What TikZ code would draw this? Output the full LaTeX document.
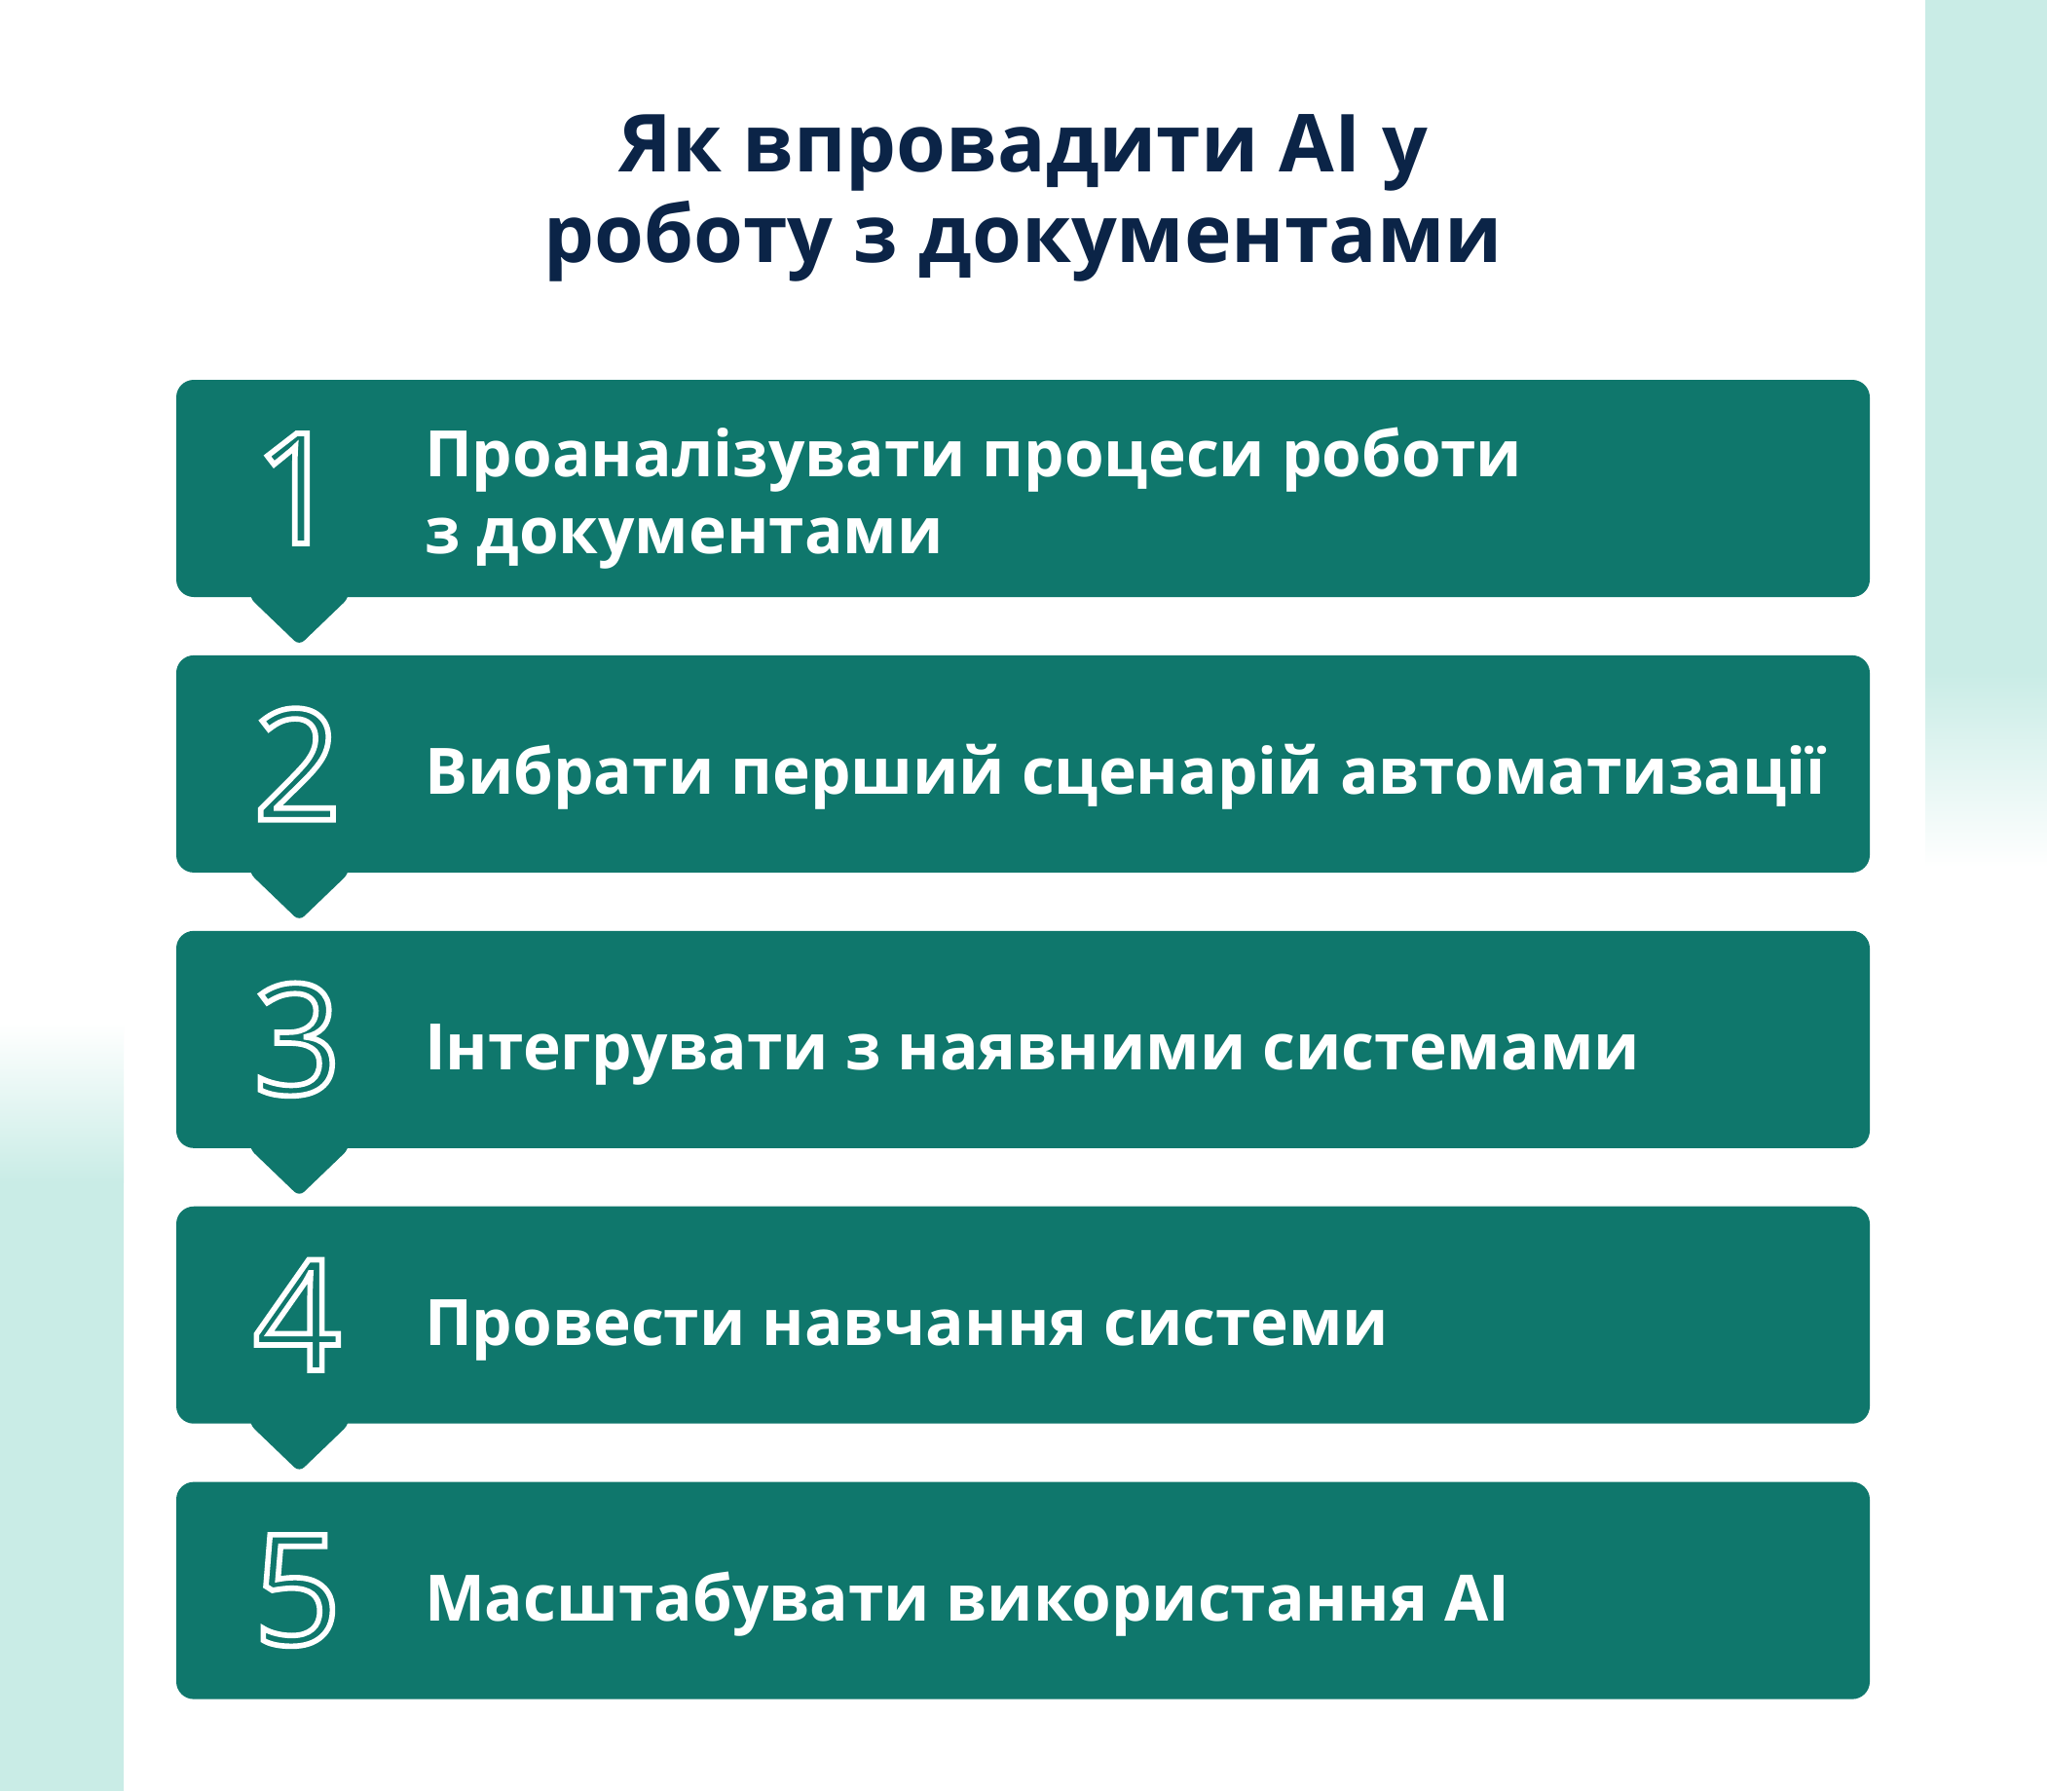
\documentclass[tikz,border=0pt]{standalone}
\usepackage{fontspec}
\setmainfont{Open Sans}
\usetikzlibrary{positioning}

\definecolor{stepteal}{HTML}{0F776C}
\definecolor{titlenavy}{HTML}{0B2447}
\definecolor{mintbg}{HTML}{C9ECE6}

% 空心数字
\newcommand{\hollownum}[1]{\special{pdf:literal direct 1 Tr 1.6 w}#1\special{pdf:literal direct 0 Tr}}

\tikzset{
  stepbox/.style={fill=stepteal, rounded corners=0.18cm, minimum width=17.39cm, minimum height=2.23cm, inner sep=0pt},
  stepnum/.style={text=white, font=\fontsize{45}{45}\selectfont, inner sep=0pt},
  steptext/.style={text=white, font=\bfseries\fontsize{18.7}{22.5}\selectfont, align=left, inner sep=0pt, anchor=base west},
  titletext/.style={text=titlenavy, font=\bfseries\fontsize{23.4}{26.5}\selectfont, align=center, inner sep=0pt}
}

\begin{document}
\begin{tikzpicture}
        % 背景
        \fill[white] (0,0) rectangle (21.02,-18.39);
        \fill[mintbg] (19.77,0) rectangle (21.02,-6.9);
        \shade[top color=mintbg, bottom color=white] (19.77,-6.9) rectangle (21.02,-8.9);
        \fill[mintbg] (0,-12.14) rectangle (1.27,-18.39);
        \shade[top color=white, bottom color=mintbg] (0,-10.5) rectangle (1.27,-12.14);

        % 标题
        \node[titletext, anchor=base] (title) at (10.51,-2.70) {Як впровадити AI у\\роботу з документами};

        % 步骤框
        \node[stepbox] (s1) at (10.505,-5.015) {};
        \node[stepbox, below=0.585cm of s1] (s2) {};
        \node[stepbox, below=0.585cm of s2] (s3) {};
        \node[stepbox, below=0.585cm of s3] (s4) {};
        \node[stepbox, below=0.585cm of s4] (s5) {};

        % 三角指针
        \fill[stepteal, rounded corners=2pt] ([xshift=0.76cm,yshift=0.1cm]s1.south west) -- ([xshift=0.76cm]s1.south west) -- ([xshift=1.27cm,yshift=-0.49cm]s1.south west) -- ([xshift=1.78cm]s1.south west) -- ([xshift=1.78cm,yshift=0.1cm]s1.south west) -- cycle;
        \fill[stepteal, rounded corners=2pt] ([xshift=0.76cm,yshift=0.1cm]s2.south west) -- ([xshift=0.76cm]s2.south west) -- ([xshift=1.27cm,yshift=-0.49cm]s2.south west) -- ([xshift=1.78cm]s2.south west) -- ([xshift=1.78cm,yshift=0.1cm]s2.south west) -- cycle;
        \fill[stepteal, rounded corners=2pt] ([xshift=0.76cm,yshift=0.1cm]s3.south west) -- ([xshift=0.76cm]s3.south west) -- ([xshift=1.27cm,yshift=-0.49cm]s3.south west) -- ([xshift=1.78cm]s3.south west) -- ([xshift=1.78cm,yshift=0.1cm]s3.south west) -- cycle;
        \fill[stepteal, rounded corners=2pt] ([xshift=0.76cm,yshift=0.1cm]s4.south west) -- ([xshift=0.76cm]s4.south west) -- ([xshift=1.27cm,yshift=-0.49cm]s4.south west) -- ([xshift=1.78cm]s4.south west) -- ([xshift=1.78cm,yshift=0.1cm]s4.south west) -- cycle;

        % 数字
        \node[stepnum] (n1) at ([xshift=1.25cm]s1.west) {\hollownum{1}};
        \node[stepnum] (n2) at ([xshift=1.25cm]s2.west) {\hollownum{2}};
        \node[stepnum] (n3) at ([xshift=1.25cm]s3.west) {\hollownum{3}};
        \node[stepnum] (n4) at ([xshift=1.25cm]s4.west) {\hollownum{4}};
        \node[stepnum] (n5) at ([xshift=1.25cm]s5.west) {\hollownum{5}};

        % 文字
        \node[steptext] (t1) at ([xshift=2.55cm,yshift=-0.67cm]s1.west) {Проаналізувати процеси роботи\\з документами};
        \node[steptext] (t2) at ([xshift=2.55cm,yshift=-0.31cm]s2.west) {Вибрати перший сценарій автоматизації};
        \node[steptext] (t3) at ([xshift=2.55cm,yshift=-0.31cm]s3.west) {Інтегрувати з наявними системами};
        \node[steptext] (t4) at ([xshift=2.55cm,yshift=-0.31cm]s4.west) {Провести навчання системи};
        \node[steptext] (t5) at ([xshift=2.55cm,yshift=-0.31cm]s5.west) {Масштабувати використання AI};
    \end{tikzpicture}
\end{document}
